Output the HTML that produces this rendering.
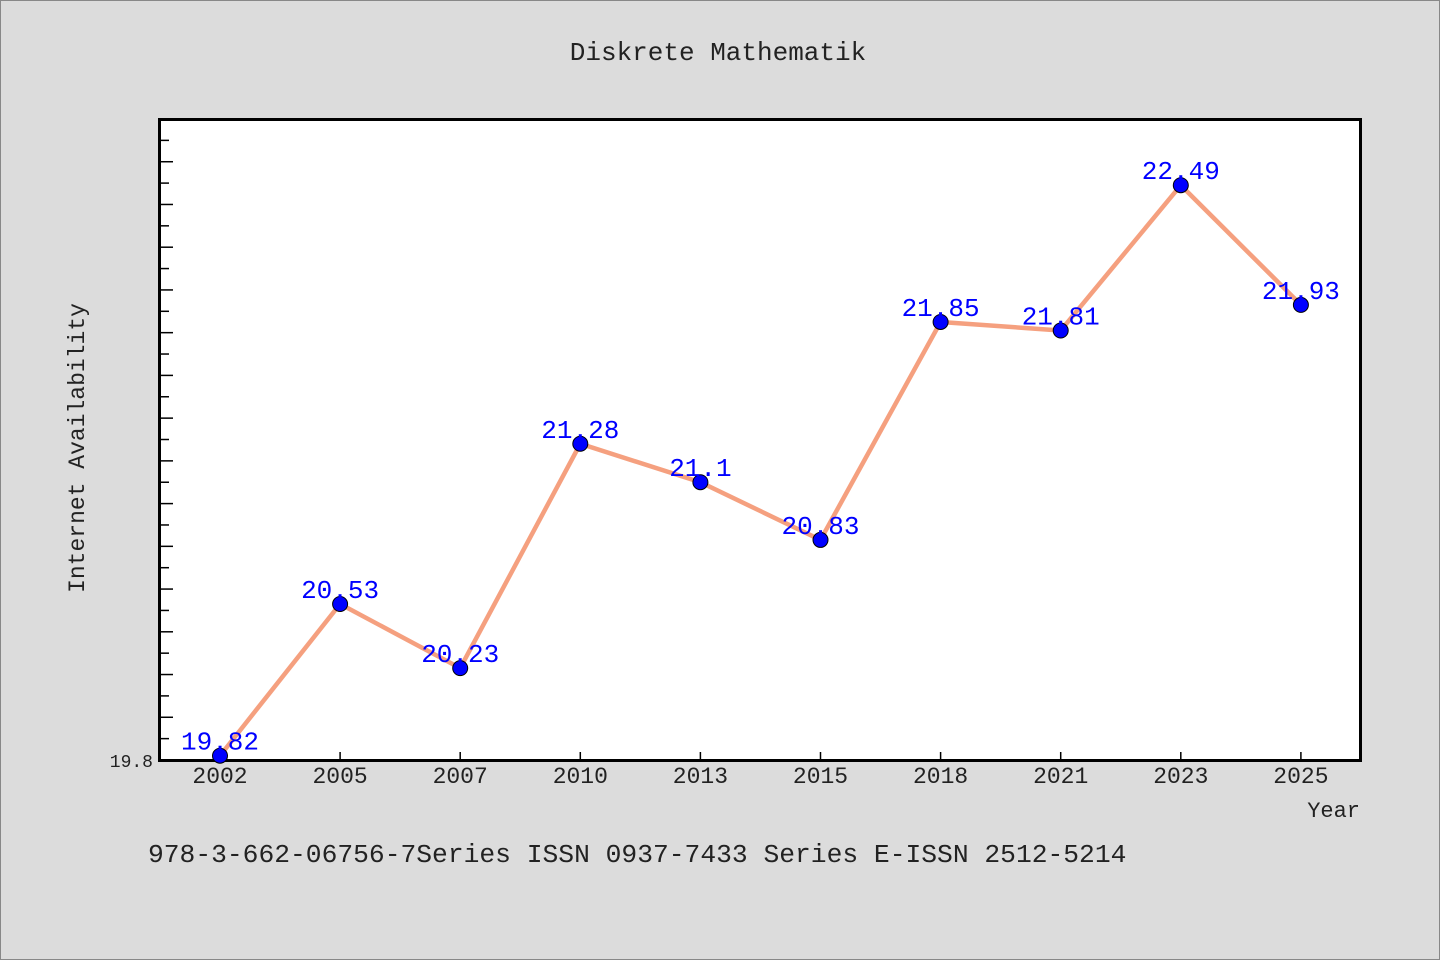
<!DOCTYPE html>
<html><head><meta charset="utf-8"><style>
body{margin:0;background:#dcdcdc;}
svg{display:block;font-family:"Liberation Mono","DejaVu Sans Mono",monospace;}
</style></head><body>
<svg id="chart" width="1440" height="960">
<rect x="0.5" y="0.5" width="1439" height="959" fill="#dcdcdc" stroke="#888"/>
<text x="718" y="60" text-anchor="middle" font-size="26" fill="#222">Diskrete Mathematik</text>
<rect x="159.5" y="119.5" width="1201" height="641" fill="#fff" stroke="#000" stroke-width="3"/>
<text x="84" y="448" text-anchor="middle" font-size="23" fill="#222" transform="rotate(-90 84 448)">Internet Availability</text>
<text x="1360" y="817" text-anchor="end" font-size="22" fill="#222">Year</text>
<text x="148" y="862" font-size="26.3" fill="#222">978-3-662-06756-7Series ISSN 0937-7433 Series E-ISSN 2512-5214</text>
<g id="ticks"></g><g id="marks"></g>
</svg>
<script>
const years=["2002","2005","2007","2010","2013","2015","2018","2021","2023","2025"];
const values=[19.82,20.53,20.23,21.28,21.1,20.83,21.85,21.81,22.49,21.93];
const valueLabels=["19.82","20.53","20.23","21.28","21.1","20.83","21.85","21.81","22.49","21.93"];
const yMin=19.8, yMax=22.8, yStep=0.1;
const ns="http://www.w3.org/2000/svg";
const L=160,R=1361,T=119,B=760;
const x=i=>L+60+i*(R-L)/years.length;
const y=v=>B-(v-yMin)/(yMax-yMin)*(B-T);
function mk(t,a,p){const e=document.createElementNS(ns,t);for(const k in a)e.setAttribute(k,a[k]);p.appendChild(e);return e;}
const tg=document.getElementById('ticks'),mg=document.getElementById('marks');
const n=Math.round((yMax-yMin)/yStep);
for(let k=1;k<n;k++){const yy=y(yMin+k*yStep);
 const t=mk('line',{x1:L,x2:L+(k%2===0?13:9),y1:yy,y2:yy,stroke:'#000','stroke-width':1.5},tg);
 
 }
const yl=mk('text',{x:153,y:767,'text-anchor':'end','font-size':18,fill:'#222'},tg);yl.textContent=yMin.toFixed(1);


years.forEach((yr,i)=>{
 const t=mk('line',{x1:x(i),x2:x(i),y1:B,y2:B-8,stroke:'#000','stroke-width':1.5},tg);
 
 
 const l=mk('text',{x:x(i),y:783,'text-anchor':'middle','font-size':23,fill:'#222'},tg);l.textContent=yr;
 
 
});
const line=mk('polyline',{points:values.map((v,i)=>x(i)+','+y(v)).join(' '),fill:'none',stroke:'#f5a07f','stroke-width':4.5},mg);


values.forEach((v,i)=>{
 const c=mk('circle',{cx:x(i),cy:y(v),r:7.5,fill:'#0000ff',stroke:'#000','stroke-width':1},mg);
 
 
 const t=mk('text',{x:x(i),y:y(v)-6,'text-anchor':'middle','font-size':26,fill:'#0000ff'},mg);t.textContent=valueLabels[i];
 
 
});
</script>
</body></html>
